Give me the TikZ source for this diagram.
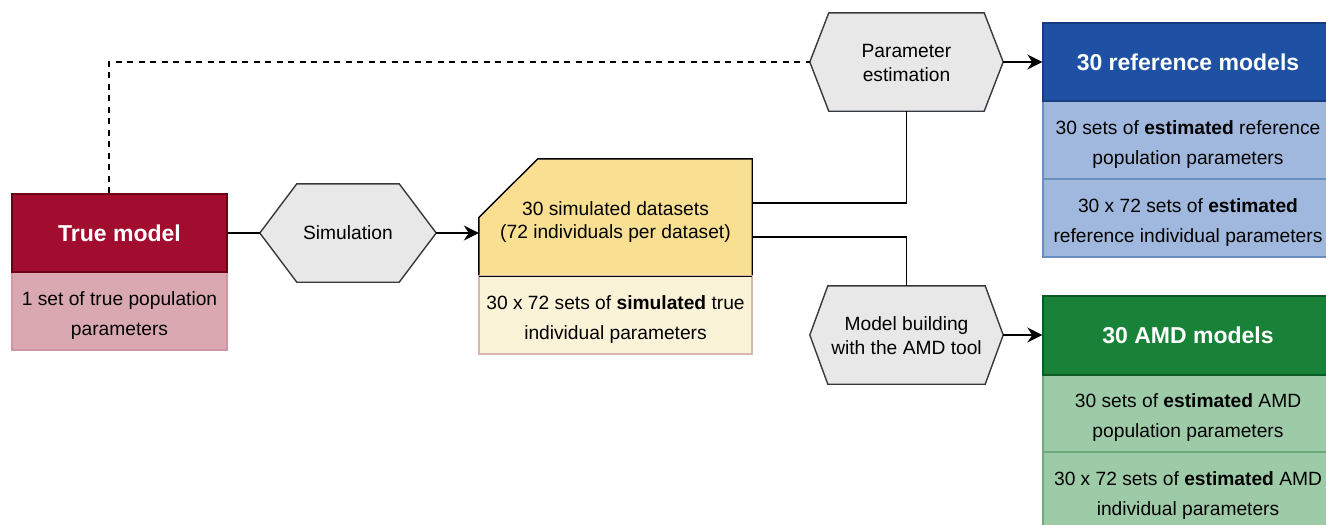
\documentclass[tikz,border=0pt]{standalone}
\usepackage{fontspec}
\setmainfont{Liberation Sans}
\usetikzlibrary{arrows.meta,backgrounds}
\definecolor{tmhead}{RGB}{162,12,46}
\definecolor{tmheadline}{RGB}{110,0,22}
\definecolor{tmlow}{RGB}{218,168,177}
\definecolor{tmlowline}{RGB}{205,152,163}
\definecolor{hexfill}{RGB}{232,232,232}
\definecolor{hexline}{RGB}{54,57,61}
\definecolor{dsfill}{RGB}{248,223,145}
\definecolor{dslow}{RGB}{250,243,215}
\definecolor{dslowline}{RGB}{214,184,172}
\definecolor{bluehead}{RGB}{30,80,163}
\definecolor{blueheadline}{RGB}{22,60,130}
\definecolor{bluerow}{RGB}{160,184,221}
\definecolor{bluerowline}{RGB}{108,142,191}
\definecolor{greenhead}{RGB}{24,130,56}
\definecolor{greenheadline}{RGB}{14,90,36}
\definecolor{greenrow}{RGB}{157,203,168}
\definecolor{greenrowline}{RGB}{110,170,122}
\newcommand\drawhex[2]{%
  \begin{scope}[on background layer]
    \draw[hexshape] (#1.west) -- ([xshift=#2]#1.north west) -- ([xshift=-#2]#1.north east)
      -- (#1.east) -- ([xshift=-#2]#1.south east) -- ([xshift=#2]#1.south west) -- cycle;
  \end{scope}}
\newcommand\fstrut{\rule{0pt}{22pt}}
\newcommand\hstrut{\rule{0pt}{16pt}}
\begin{document}
\begin{tikzpicture}[x=1pt,y=-1pt,
  txt/.style={font=\fontsize{19.2}{30}\selectfont, align=center, inner sep=0pt},
  hdr/.style={font=\fontsize{23}{28}\bfseries\selectfont, text=white, align=center, inner sep=0pt, line width=1.4pt},
  cell/.style={txt, line width=1.4pt},
  hexnode/.style={txt, font=\fontsize{19.2}{24}\selectfont, minimum width=193pt, minimum height=98pt},
  hexshape/.style={draw=hexline, fill=hexfill, line width=1.4pt, line join=miter},
  conn/.style={line width=1.4pt, black},
  arr/.style={conn, -{Stealth[length=15pt,width=15pt,inset=5pt]}},
]
\useasboundingbox (0,0) rectangle (1326,525);

% True model
\node[cell, fill=tmlow, draw=tmlowline, minimum width=215pt, minimum height=78pt] (tml) at (119.5,311) {\fstrut 1 set of true population\\parameters};
\node[hdr, fill=tmhead, draw=tmheadline, minimum width=215pt, minimum height=78pt] (tm) at (119.5,233) {True model};

% Simulation
\node[hexnode, minimum width=176pt] (sim) at (348,233) {Simulation};
\drawhex{sim}{37pt}

% Datasets
\node[cell, fill=dslow, draw=dslowline, minimum width=273pt, minimum height=78pt] (dsl) at (615.5,315) {\fstrut 30 x 72 sets of \textbf{simulated} true\\individual parameters};
\node[txt, font=\fontsize{19.2}{23}\selectfont, minimum width=273pt, minimum height=117pt] (ds) at (615.5,217.5) {\fstrut 30 simulated datasets\\(72 individuals per dataset)};
\begin{scope}[on background layer]
  \draw[fill=dsfill, draw=black, line width=1.4pt] (ds.west) -- ([xshift=59pt]ds.north west) -- (ds.north east) -- (ds.south east) -- (ds.south west) -- cycle;
\end{scope}
\draw[line width=1.4pt, black] (ds.south west) -- (ds.south east);

% Parameter estimation
\node[hexnode] (pe) at (906.5,62) {\hstrut Parameter\\estimation};
\drawhex{pe}{19pt}

% Model building
\node[hexnode] (mb) at (906.5,335) {\hstrut Model building\\with the AMD tool};
\drawhex{mb}{18pt}

% Reference models
\node[cell, fill=bluerow, draw=bluerowline, minimum width=290pt, minimum height=78pt] (rr2) at (1188,218) {\fstrut 30 x 72 sets of \textbf{estimated}\\reference individual parameters};
\node[cell, fill=bluerow, draw=bluerowline, minimum width=290pt, minimum height=78pt] (rr1) at (1188,140) {\fstrut 30 sets of \textbf{estimated} reference\\population parameters};
\node[hdr, fill=bluehead, draw=blueheadline, minimum width=290pt, minimum height=78pt] (rh) at (1188,62) {30 reference models};

% AMD models
\node[cell, fill=greenrow, draw=greenrowline, minimum width=290pt, minimum height=78pt] (ar2) at (1188,491) {\fstrut 30 x 72 sets of \textbf{estimated} AMD\\individual parameters};
\node[cell, fill=greenrow, draw=greenrowline, minimum width=290pt, minimum height=77pt] (ar1) at (1188,413.5) {\fstrut 30 sets of \textbf{estimated} AMD\\population parameters};
\node[hdr, fill=greenhead, draw=greenheadline, minimum width=290pt, minimum height=79pt] (ah) at (1188,335.5) {30 AMD models};

% Connectors
\draw[conn] (tm.east) -- (sim.west);
\draw[arr] (sim.east) -- (sim.east -| ds.west);
\draw[conn, dash pattern=on 6pt off 5.5pt] ([xshift=-10.5pt]tm.north) |- (pe.west);
\draw[conn] ([yshift=14.5pt]ds.east) -| (pe.south);
\draw[conn] ([yshift=-19.5pt]ds.east) -| (mb.north);
\draw[arr] (pe.east) -- (pe.east -| rh.west);
\draw[arr] (mb.east) -- (mb.east -| ah.west);
\end{tikzpicture}
\end{document}
